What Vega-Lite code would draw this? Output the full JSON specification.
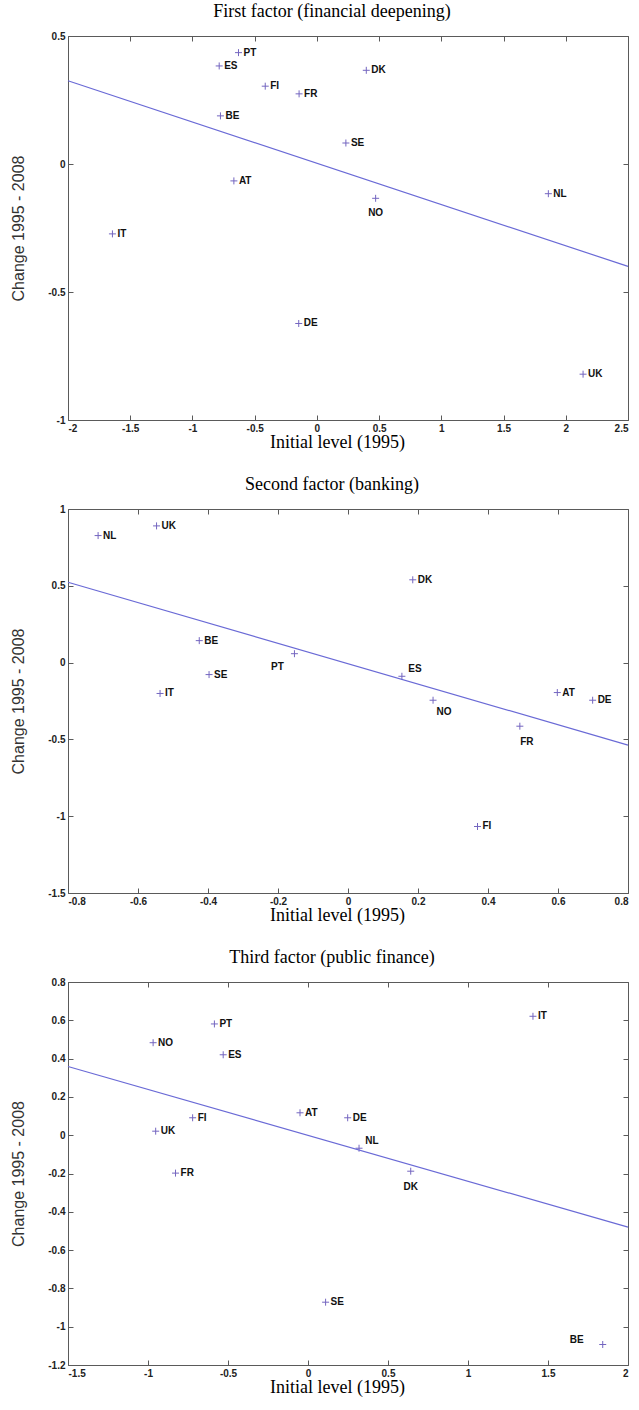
{
  "$schema": "https://vega.github.io/schema/vega-lite/v6.json",
  "padding": {"left": 10, "top": 2, "right": 0, "bottom": 0},
  "background": "white",
  "spacing": 23,
  "datasets": {
    "f1": [
      {"c": "PT", "x": -0.63, "y": 0.435},
      {"c": "ES", "x": -0.785, "y": 0.383},
      {"c": "DK", "x": 0.397, "y": 0.366},
      {"c": "FI", "x": -0.415, "y": 0.304},
      {"c": "FR", "x": -0.143, "y": 0.274},
      {"c": "BE", "x": -0.775, "y": 0.188},
      {"c": "SE", "x": 0.233, "y": 0.082},
      {"c": "AT", "x": -0.667, "y": -0.066},
      {"c": "NO", "x": 0.472, "y": -0.134},
      {"c": "NL", "x": 1.86, "y": -0.116},
      {"c": "IT", "x": -1.643, "y": -0.273},
      {"c": "DE", "x": -0.146, "y": -0.623},
      {"c": "UK", "x": 2.139, "y": -0.821}
    ],
    "f1line": [{"x": -2, "y": 0.325}, {"x": 2.5, "y": -0.40}],
    "f2": [
      {"c": "NL", "x": -0.714, "y": 0.827},
      {"c": "UK", "x": -0.547, "y": 0.89},
      {"c": "DK", "x": 0.185, "y": 0.539},
      {"c": "BE", "x": -0.425, "y": 0.143},
      {"c": "PT", "x": -0.153, "y": 0.058},
      {"c": "SE", "x": -0.397, "y": -0.078},
      {"c": "ES", "x": 0.154, "y": -0.089},
      {"c": "IT", "x": -0.537, "y": -0.201},
      {"c": "NO", "x": 0.243, "y": -0.245},
      {"c": "AT", "x": 0.598, "y": -0.195},
      {"c": "DE", "x": 0.699, "y": -0.245},
      {"c": "FR", "x": 0.491, "y": -0.414},
      {"c": "FI", "x": 0.37, "y": -1.067}
    ],
    "f2line": [{"x": -0.8, "y": 0.523}, {"x": 0.8, "y": -0.537}],
    "f3": [
      {"c": "IT", "x": 1.406, "y": 0.621},
      {"c": "PT", "x": -0.585, "y": 0.581},
      {"c": "NO", "x": -0.968, "y": 0.483},
      {"c": "ES", "x": -0.53, "y": 0.42},
      {"c": "AT", "x": -0.05, "y": 0.117},
      {"c": "DE", "x": 0.248, "y": 0.091},
      {"c": "FI", "x": -0.721, "y": 0.091},
      {"c": "UK", "x": -0.952, "y": 0.021},
      {"c": "NL", "x": 0.319, "y": -0.068},
      {"c": "FR", "x": -0.828, "y": -0.198},
      {"c": "DK", "x": 0.642, "y": -0.188},
      {"c": "SE", "x": 0.11, "y": -0.872},
      {"c": "BE", "x": 1.842, "y": -1.093}
    ],
    "f3line": [{"x": -1.5, "y": 0.359}, {"x": 2, "y": -0.48}]
  },
  "config": {
    "view": {"stroke": "#5a5a5a", "strokeWidth": 1},
    "axis": {
      "grid": false, "domain": false, "tickColor": "#5a5a5a", "tickSize": -5,
      "labelFont": "Liberation Sans", "labelFontWeight": "bold", "labelFontSize": 10,
      "labelColor": "#222222", "titleFontWeight": "normal", "labelExpr": "'' + datum.value"
    },
    "axisX": {"titleFont": "Liberation Serif", "titleFontSize": 18, "titleColor": "#000000", "labelPadding": 8, "titlePadding": 0},
    "axisY": {"titleFont": "Liberation Sans", "titleFontSize": 16, "titleColor": "#333333", "labelPadding": 8, "titlePadding": 21},
    "title": {"font": "Liberation Serif", "fontSize": 18, "fontWeight": "normal", "color": "#000000", "offset": 10, "dx": -16},
    "text": {"font": "Liberation Sans", "fontWeight": "bold", "fontSize": 10, "baseline": "middle", "color": "#111111"},
    "point": {"shape": "M-1,0L1,0M0,-1L0,1", "filled": false, "size": 49, "strokeWidth": 1, "color": "#7466c0", "opacity": 1},
    "line": {"color": "#6a6ad6", "strokeWidth": 1.2}
  },
  "vconcat": [
    {
      "width": 560, "height": 384,
      "title": "First factor (financial deepening)",
      "resolve": {"axis": {"x": "independent", "y": "independent"}},
      "layer": [
        {
          "data": {"name": "f1"},
          "mark": "point",
          "encoding": {
            "x": {"field": "x", "type": "quantitative", "scale": {"domain": [-2, 2.5], "nice": false, "zero": false},
                  "axis": {"orient": "bottom", "values": [-2, -1.5, -1, -0.5, 0, 0.5, 1, 1.5, 2, 2.5], "title": "Initial level (1995)", "titleX": 269}},
            "y": {"field": "y", "type": "quantitative", "scale": {"domain": [-1, 0.5], "nice": false, "zero": false},
                  "axis": {"orient": "left", "values": [-1, -0.5, 0, 0.5], "title": "Change 1995 - 2008"}}
          }
        },
        {
          "data": {"name": "f1line"},
          "mark": "line",
          "encoding": {
            "x": {"field": "x", "type": "quantitative", "axis": {"orient": "top", "labels": false, "title": null, "values": [-2, -1.5, -1, -0.5, 0, 0.5, 1, 1.5, 2, 2.5]}},
            "y": {"field": "y", "type": "quantitative", "axis": {"orient": "right", "labels": false, "title": null, "values": [-1, -0.5, 0, 0.5]}}
          }
        },
        {
          "data": {"name": "f1"},
          "transform": [{"filter": "datum.c != 'NO'"}],
          "mark": {"type": "text", "align": "left", "dx": 5},
          "encoding": {"x": {"field": "x", "type": "quantitative", "axis": null}, "y": {"field": "y", "type": "quantitative", "axis": null}, "text": {"field": "c"}}
        },
        {
          "data": {"name": "f1"},
          "transform": [{"filter": "datum.c == 'NO'"}],
          "mark": {"type": "text", "align": "center", "dx": 0, "dy": 15},
          "encoding": {"x": {"field": "x", "type": "quantitative", "axis": null}, "y": {"field": "y", "type": "quantitative", "axis": null}, "text": {"field": "c"}}
        }
      ]
    },
    {
      "width": 560, "height": 384,
      "title": "Second factor (banking)",
      "resolve": {"axis": {"x": "independent", "y": "independent"}},
      "layer": [
        {
          "data": {"name": "f2"},
          "mark": "point",
          "encoding": {
            "x": {"field": "x", "type": "quantitative", "scale": {"domain": [-0.8, 0.8], "nice": false, "zero": false},
                  "axis": {"orient": "bottom", "values": [-0.8, -0.6, -0.4, -0.2, 0, 0.2, 0.4, 0.6, 0.8], "title": "Initial level (1995)", "titleX": 269}},
            "y": {"field": "y", "type": "quantitative", "scale": {"domain": [-1.5, 1], "nice": false, "zero": false},
                  "axis": {"orient": "left", "values": [-1.5, -1, -0.5, 0, 0.5, 1], "title": "Change 1995 - 2008"}}
          }
        },
        {
          "data": {"name": "f2line"},
          "mark": "line",
          "encoding": {
            "x": {"field": "x", "type": "quantitative", "axis": {"orient": "top", "labels": false, "title": null, "values": [-0.8, -0.6, -0.4, -0.2, 0, 0.2, 0.4, 0.6, 0.8]}},
            "y": {"field": "y", "type": "quantitative", "axis": {"orient": "right", "labels": false, "title": null, "values": [-1.5, -1, -0.5, 0, 0.5, 1]}}
          }
        },
        {
          "data": {"name": "f2"},
          "transform": [{"filter": "indexof(['NO', 'FR', 'PT', 'ES'], datum.c) < 0"}],
          "mark": {"type": "text", "align": "left", "dx": 5},
          "encoding": {"x": {"field": "x", "type": "quantitative", "axis": null}, "y": {"field": "y", "type": "quantitative", "axis": null}, "text": {"field": "c"}}
        },
        {
          "data": {"name": "f2"},
          "transform": [{"filter": "datum.c == 'NO'"}],
          "mark": {"type": "text", "align": "center", "dx": 11, "dy": 12},
          "encoding": {"x": {"field": "x", "type": "quantitative", "axis": null}, "y": {"field": "y", "type": "quantitative", "axis": null}, "text": {"field": "c"}}
        },
        {
          "data": {"name": "f2"},
          "transform": [{"filter": "datum.c == 'FR'"}],
          "mark": {"type": "text", "align": "center", "dx": 7, "dy": 16},
          "encoding": {"x": {"field": "x", "type": "quantitative", "axis": null}, "y": {"field": "y", "type": "quantitative", "axis": null}, "text": {"field": "c"}}
        },
        {
          "data": {"name": "f2"},
          "transform": [{"filter": "datum.c == 'PT'"}],
          "mark": {"type": "text", "align": "center", "dx": -17, "dy": 13},
          "encoding": {"x": {"field": "x", "type": "quantitative", "axis": null}, "y": {"field": "y", "type": "quantitative", "axis": null}, "text": {"field": "c"}}
        },
        {
          "data": {"name": "f2"},
          "transform": [{"filter": "datum.c == 'ES'"}],
          "mark": {"type": "text", "align": "center", "dx": 13, "dy": -7},
          "encoding": {"x": {"field": "x", "type": "quantitative", "axis": null}, "y": {"field": "y", "type": "quantitative", "axis": null}, "text": {"field": "c"}}
        }
      ]
    },
    {
      "width": 560, "height": 383,
      "title": "Third factor (public finance)",
      "resolve": {"axis": {"x": "independent", "y": "independent"}},
      "layer": [
        {
          "data": {"name": "f3"},
          "mark": "point",
          "encoding": {
            "x": {"field": "x", "type": "quantitative", "scale": {"domain": [-1.5, 2], "nice": false, "zero": false},
                  "axis": {"orient": "bottom", "values": [-1.5, -1, -0.5, 0, 0.5, 1, 1.5, 2], "title": "Initial level (1995)", "titleX": 269}},
            "y": {"field": "y", "type": "quantitative", "scale": {"domain": [-1.2, 0.8], "nice": false, "zero": false},
                  "axis": {"orient": "left", "values": [-1.2, -1, -0.8, -0.6, -0.4, -0.2, 0, 0.2, 0.4, 0.6, 0.8], "title": "Change 1995 - 2008"}}
          }
        },
        {
          "data": {"name": "f3line"},
          "mark": "line",
          "encoding": {
            "x": {"field": "x", "type": "quantitative", "axis": {"orient": "top", "labels": false, "title": null, "values": [-1.5, -1, -0.5, 0, 0.5, 1, 1.5, 2]}},
            "y": {"field": "y", "type": "quantitative", "axis": {"orient": "right", "labels": false, "title": null, "values": [-1.2, -1, -0.8, -0.6, -0.4, -0.2, 0, 0.2, 0.4, 0.6, 0.8]}}
          }
        },
        {
          "data": {"name": "f3"},
          "transform": [{"filter": "indexof(['NL', 'DK', 'BE'], datum.c) < 0"}],
          "mark": {"type": "text", "align": "left", "dx": 5},
          "encoding": {"x": {"field": "x", "type": "quantitative", "axis": null}, "y": {"field": "y", "type": "quantitative", "axis": null}, "text": {"field": "c"}}
        },
        {
          "data": {"name": "f3"},
          "transform": [{"filter": "datum.c == 'NL'"}],
          "mark": {"type": "text", "align": "center", "dx": 13, "dy": -7},
          "encoding": {"x": {"field": "x", "type": "quantitative", "axis": null}, "y": {"field": "y", "type": "quantitative", "axis": null}, "text": {"field": "c"}}
        },
        {
          "data": {"name": "f3"},
          "transform": [{"filter": "datum.c == 'DK'"}],
          "mark": {"type": "text", "align": "center", "dx": 0, "dy": 16},
          "encoding": {"x": {"field": "x", "type": "quantitative", "axis": null}, "y": {"field": "y", "type": "quantitative", "axis": null}, "text": {"field": "c"}}
        },
        {
          "data": {"name": "f3"},
          "transform": [{"filter": "datum.c == 'BE'"}],
          "mark": {"type": "text", "align": "center", "dx": -26, "dy": -5},
          "encoding": {"x": {"field": "x", "type": "quantitative", "axis": null}, "y": {"field": "y", "type": "quantitative", "axis": null}, "text": {"field": "c"}}
        }
      ]
    }
  ]
}
